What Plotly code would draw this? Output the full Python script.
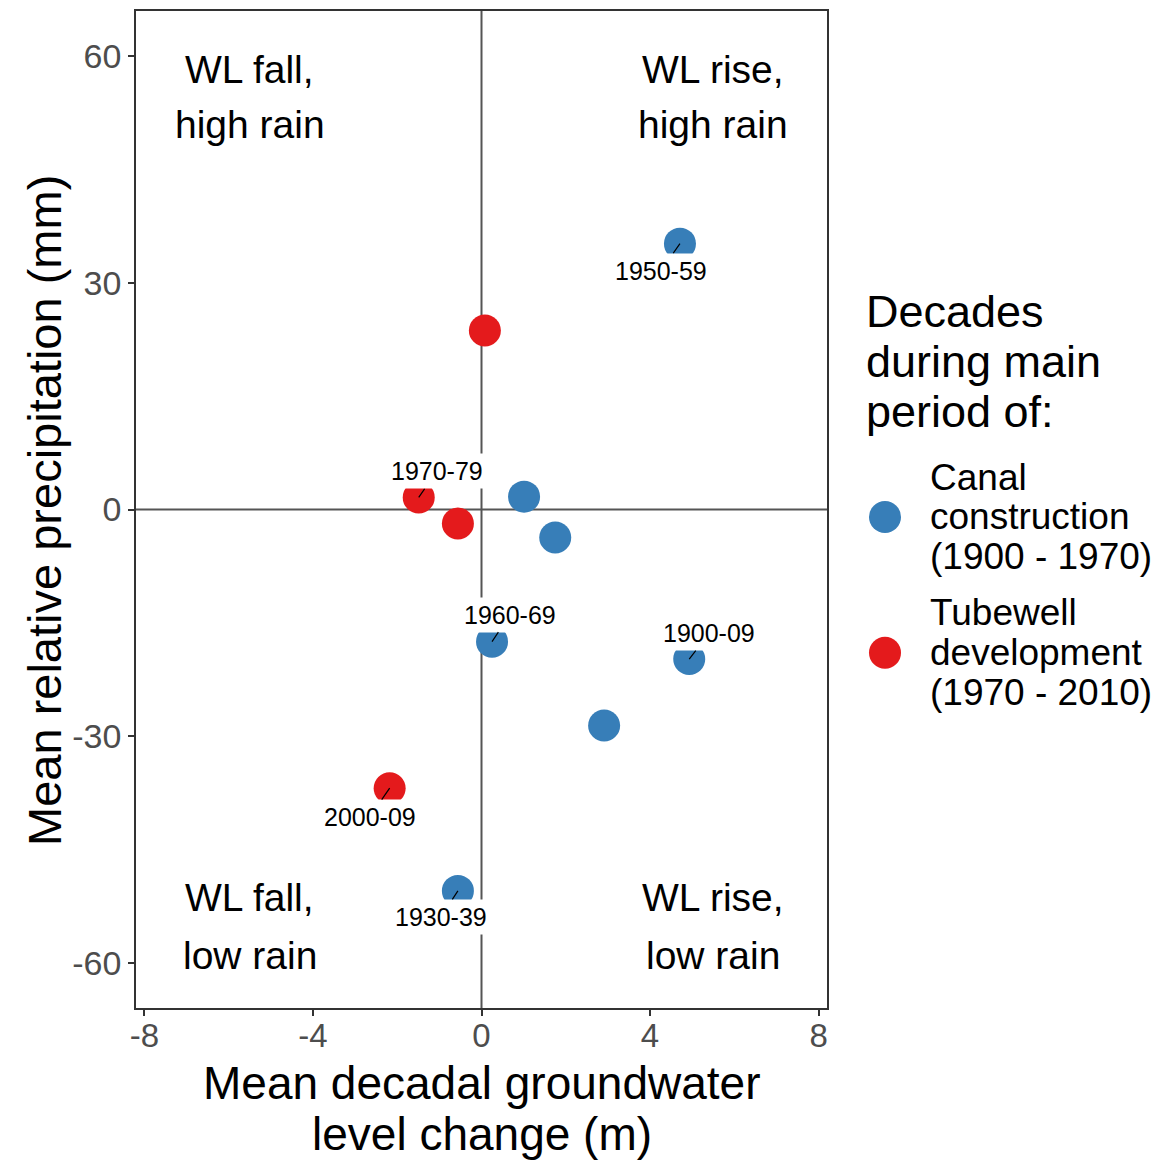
import plotly.graph_objects as go

# ---- data ----
canal_x = [4.71, 1.01, 1.75, 0.25, 4.93, 2.91, -0.56]
canal_y = [35.2, 1.7, -3.7, -17.5, -19.8, -28.6, -50.5]
canal_lab = ["1950-59", "", "", "1960-69", "1900-09", "", "1930-39"]

tube_x = [0.08, -1.49, -0.56, -2.18]
tube_y = [23.7, 1.6, -1.85, -36.9]
tube_lab = ["", "1970-79", "", "2000-09"]

# label offsets in pixels (ggrepel-like placement)
canal_off = [(-19, 27), None, None, (18, -27), (20, -26), None, (-17, 26)]
tube_off = [None, (18, -26), None, (-20, 29)]

x_ticks = [-8, -4, 0, 4, 8]
y_ticks = [-60, -30, 0, 30, 60]

quad_text = [("WL fall,", "high rain", -5.5, 58.2, 51.0),
             ("WL rise,", "high rain", 5.5, 58.2, 51.0),
             ("WL fall,", "low rain", -5.5, -51.4, -59.0),
             ("WL rise,", "low rain", 5.5, -51.4, -59.0)]

legend_title = ["Decades", "during main", "period of:"]
series_names = [["Canal", "construction", "(1900 - 1970)"],
                ["Tubewell", "development", "(1970 - 2010)"]]

BLUE = "#377EB8"
RED = "#E41A1C"
colors = [BLUE, RED]
FONT = "Arial, Liberation Sans, sans-serif"

# plot area in pixels
L, R, T, B = 136, 827, 9, 1008
W, H = R - L, B - T


def px_x(p):
    return (p - L) / W


def px_y(p):
    return (B - p) / H


fig = go.Figure()
fig.add_trace(go.Scatter(
    x=canal_x, y=canal_y, mode="markers",
    name=" ".join(series_names[0]),
    marker=dict(color=BLUE, size=32, line=dict(width=0)), showlegend=False,
))
fig.add_trace(go.Scatter(
    x=tube_x, y=tube_y, mode="markers",
    name=" ".join(series_names[1]),
    marker=dict(color=RED, size=32, line=dict(width=0)), showlegend=False,
))

# zero lines
fig.add_shape(type="line", xref="x", yref="paper", x0=0, x1=0, y0=0, y1=1,
              line=dict(color="#555555", width=2), layer="below")
fig.add_shape(type="line", xref="paper", yref="y", x0=0, x1=1, y0=0, y1=0,
              line=dict(color="#555555", width=2), layer="below")

# point labels
for xs, ys, labs, offs in [(canal_x, canal_y, canal_lab, canal_off),
                           (tube_x, tube_y, tube_lab, tube_off)]:
    for xv, yv, lab, off in zip(xs, ys, labs, offs):
        if not lab:
            continue
        fig.add_annotation(
            x=xv, y=yv, text=lab, showarrow=True, arrowhead=0, arrowwidth=1.2,
            arrowcolor="black", ax=off[0], ay=off[1], bgcolor="white",
            borderpad=3, font=dict(family=FONT, size=25, color="black"),
        )

# quadrant texts
for l1, l2, xq, y1, y2 in quad_text:
    for t, yq in [(l1, y1), (l2, y2)]:
        fig.add_annotation(x=xq, y=yq, text=t, showarrow=False,
                           font=dict(family=FONT, size=39, color="black"))

# axis titles
fig.add_annotation(xref="paper", yref="paper", x=0.5, y=px_y(1083), yanchor="middle",
                   text="Mean decadal groundwater", showarrow=False,
                   font=dict(family=FONT, size=46, color="black"))
fig.add_annotation(xref="paper", yref="paper", x=0.5, y=px_y(1134), yanchor="middle",
                   text="level change (m)", showarrow=False,
                   font=dict(family=FONT, size=46, color="black"))
fig.add_annotation(xref="paper", yref="paper", x=px_x(45), y=px_y(510),
                   xanchor="center", yanchor="middle", textangle=-90,
                   text="Mean relative precipitation (mm)", showarrow=False,
                   font=dict(family=FONT, size=47, color="black"))

# legend (drawn as keys + text to match ggplot legend layout)
for t, yp in zip(legend_title, [310, 360, 410]):
    fig.add_annotation(xref="paper", yref="paper", x=px_x(864), y=px_y(yp),
                       xanchor="left", yanchor="middle", text=t, showarrow=False,
                       font=dict(family=FONT, size=45, color="black"))
for names, col, yc in zip(series_names, colors, [516, 652]):
    fig.add_shape(type="circle", xref="paper", yref="paper",
                  xsizemode="pixel", ysizemode="pixel",
                  xanchor=px_x(885), yanchor=px_y(yc),
                  x0=-16, x1=16, y0=-16, y1=16,
                  fillcolor=col, line=dict(width=0))
    for i, t in enumerate(names):
        fig.add_annotation(xref="paper", yref="paper", x=px_x(928), y=px_y(yc - 40 + 40 * i),
                           xanchor="left", yanchor="middle", text=t, showarrow=False,
                           font=dict(family=FONT, size=37, color="black"))

fig.update_xaxes(range=[-8.2, 8.2], tickvals=x_ticks,
                 ticktext=[str(v) for v in x_ticks],
                 showgrid=False, zeroline=False, showline=True, mirror=True,
                 linecolor="#333333", linewidth=1.5,
                 ticks="outside", ticklen=6, tickcolor="#333333", tickwidth=1.5,
                 ticklabelstandoff=-8,
                 tickfont=dict(family=FONT, size=33, color="#4D4D4D"))
fig.update_yaxes(range=[-66, 66], tickvals=y_ticks,
                 ticktext=[str(v) for v in y_ticks],
                 showgrid=False, zeroline=False, showline=True, mirror=True,
                 linecolor="#333333", linewidth=1.5,
                 ticks="outside", ticklen=6, tickcolor="#333333", tickwidth=1.5,
                 tickfont=dict(family=FONT, size=34, color="#4D4D4D"))

fig.update_layout(
    width=1166, height=1160,
    margin=dict(l=L, r=1166 - R, t=T, b=1160 - B),
    paper_bgcolor="white", plot_bgcolor="white",
    showlegend=False,
)

fig.write_html("out.html")
